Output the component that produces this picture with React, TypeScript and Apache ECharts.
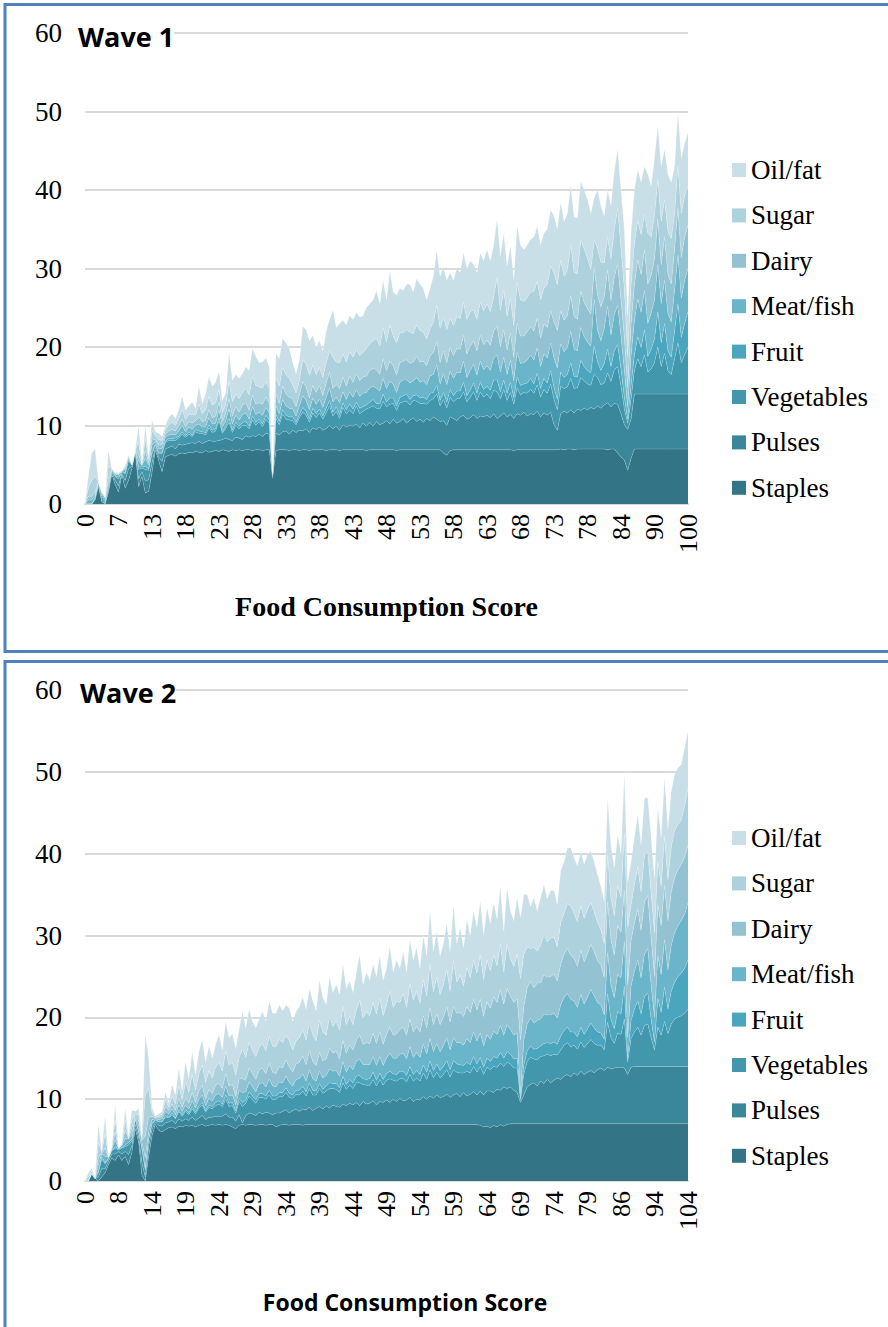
import React, { useEffect, useRef } from "react";
import * as echarts from "echarts";

const seriesNames = ["Staples", "Pulses", "Vegetables", "Fruit", "Meat/fish", "Dairy", "Sugar", "Oil/fat"];
const legendOrder = ["Oil/fat", "Sugar", "Dairy", "Meat/fish", "Fruit", "Vegetables", "Pulses", "Staples"];
const seriesColors = ["#337587", "#3A879B", "#4397AC", "#4AA6BE", "#6AB5C9", "#93C3D3", "#AED2DD", "#C9DFE7"];

// Wave 1: Food Consumption Score categories
const cats1 = [
  0, 0.5, 1, 1.5, 2, 3, 3.5, 4, 5, 6,
  7, 7.5, 8, 8.5, 9, 10, 10.5, 11, 11.5, 12,
  13, 13.5, 14, 14.5, 15, 15.5, 16, 16.5, 17, 17.5,
  18, 18.5, 19, 19.5, 20, 20.5, 21, 21.5, 22, 22.5,
  23, 23.5, 24, 24.5, 25, 25.5, 26, 26.5, 27, 27.5,
  28, 28.5, 29, 29.5, 30, 30.5, 31, 31.5, 32, 32.5,
  33, 33.5, 34, 34.5, 35, 35.5, 36, 36.5, 37, 37.5,
  38, 38.5, 39, 39.5, 40, 40.5, 41, 41.5, 42, 42.5,
  43, 43.5, 44, 44.5, 45, 45.5, 46, 46.5, 47, 47.5,
  48, 48.5, 49, 49.5, 50, 50.5, 51, 51.5, 52, 52.5,
  53, 53.5, 54, 54.5, 55, 55.5, 56, 56.5, 57, 57.5,
  58, 58.5, 59, 59.5, 60, 60.5, 61, 61.5, 62, 62.5,
  63, 63.5, 64, 64.5, 65, 65.5, 66, 66.5, 67, 67.5,
  68, 68.5, 69, 69.5, 70, 70.5, 71, 71.5, 72, 72.5,
  73, 73.5, 74, 74.5, 75, 75.5, 76, 76.5, 77, 77.5,
  78, 78.5, 79, 79.5, 80, 81, 81.5, 82, 83, 83.5,
  84, 84.5, 85, 86, 86.5, 87, 88, 88.5, 89, 89.5,
  90, 91, 92, 93, 94, 95, 96, 97, 98, 99,
  100,
];

const staples1 = [
  0, 0, 0, 0.5, 2.2, 0.3, 0, 1.5, 3.8, 2.5,
  1.5, 3.7, 2, 3, 4.5, 6.6, 2.2, 3.5, 1.4, 1.6,
  4, 6.9, 5.5, 4.1, 6, 6.2, 6.3, 6.1, 6.4, 6.5,
  6.4, 6.6, 6.5, 6.7, 6.6, 6.5, 6.8, 6.6, 6.7, 6.8,
  6.7, 6.9, 6.8, 6.7, 6.9, 6.8, 6.9, 6.8, 6.9, 6.9,
  6.8, 6.9, 6.9, 6.8, 6.9, 6.9, 3.3, 6.8, 6.9, 6.9,
  6.9, 6.8, 6.9, 6.9, 6.8, 6.9, 6.9, 6.8, 6.9, 6.9,
  6.9, 6.9, 6.8, 6.9, 6.9, 6.9, 6.8, 6.9, 6.9, 6.9,
  6.9, 6.9, 6.9, 6.9, 6.8, 6.9, 6.9, 6.9, 6.9, 6.9,
  6.9, 6.9, 6.9, 6.8, 6.9, 6.9, 6.9, 6.9, 6.9, 6.9,
  6.9, 6.9, 6.9, 6.9, 6.9, 6.9, 6.9, 6.5, 6.2, 6.8,
  6.9, 6.9, 6.9, 6.9, 6.9, 6.9, 6.9, 6.9, 6.9, 6.9,
  6.9, 6.9, 6.9, 6.9, 6.9, 6.9, 6.9, 6.9, 6.8, 6.9,
  6.9, 6.9, 6.9, 6.9, 6.9, 6.9, 6.9, 6.9, 6.9, 6.9,
  6.9, 6.9, 7, 6.9, 7, 7, 6.9, 7, 7, 7,
  7, 7, 7, 7, 7, 7, 6.9, 7, 7, 6.5,
  6, 5.6, 4.3, 5.8, 7, 7, 7, 7, 7, 7,
  7, 7, 7, 7, 7, 7, 7, 7, 7, 7,
  7,
];
const pulses1 = [
  0, 0, 0, 0, 0.3, 0.2, 0, 0.3, 0.3, 0.5,
  0.8, 0.2, 1, 1.5, 0.3, 0.1, 1, 0.6, 1.5, 1.5,
  1.2, 0.3, 0.5, 1.3, 1, 1, 1.1, 0.9, 1.2, 1.0,
  1.2, 1.1, 1.3, 1.0, 1.4, 1.2, 1.1, 1.5, 1.3, 1.2,
  1.4, 1.3, 1.6, 1.5, 1.2, 1.7, 1.5, 1.4, 1.8, 1.6,
  1.9, 1.7, 2.0, 1.8, 2.1, 2.0, 0.3, 2.2, 1.9, 2.3,
  2.4, 2.1, 2.5, 2.2, 2.6, 2.4, 2.7, 2.3, 2.8, 2.6,
  2.9, 2.5, 2.8, 3.1, 2.7, 3.0, 2.6, 3.2, 2.9, 3.1,
  3.0, 3.3, 2.8, 3.4, 3.1, 3.5, 3.0, 3.6, 3.2, 3.4,
  3.7, 3.3, 3.9, 3.5, 3.6, 4.0, 3.4, 3.8, 4.1, 3.6,
  3.9, 3.5, 4.0, 3.7, 4.2, 3.9, 3.6, 4.1, 3.8, 4.3,
  4.0, 3.7, 4.2, 4.4, 3.9, 4.1, 4.5, 4.0, 4.3, 4.2,
  4.4, 4.1, 4.6, 4.0, 4.3, 4.7, 4.2, 4.5, 4.1, 4.6,
  4.4, 4.8, 4.3, 4.6, 4.5, 4.9, 4.2, 4.7, 4.4, 4.8,
  3.2, 2.5, 4.5, 4.9, 4.6, 5.0, 4.7, 5.1, 4.9, 5.2,
  5.0, 5.3, 5.1, 5.5, 5.2, 5.6, 6.0, 5.4, 5.8, 6.2,
  5.5, 4.5, 5.2, 5.0, 7, 7, 7, 7, 7, 7,
  7, 7, 7, 7, 7, 7, 7, 7, 7, 7,
  7,
];
const veg1 = [
  0, 0, 0, 0.3, 0.3, 0.5, 0.2, 0.5, 0.2, 0.5,
  0.9, 0.2, 0.8, 1, 0.2, 0.1, 1.2, 0.5, 1.5, 1.2,
  1.2, 0.3, 0.4, 1, 0.8, 0.9, 0.7, 1.1, 0.8, 1.4,
  0.9, 1.2, 0.8, 1.5, 1.0, 1.3, 0.9, 1.6, 1.1, 1.3,
  2.5, 0.8, 1.2, 2.2, 1.0, 1.5, 1.2, 1.8, 1.3, 1.1,
  2.0, 1.4, 1.6, 1.2, 1.8, 1.4, 0.1, 1.9, 1.3, 2.2,
  1.5, 1.8, 1.2, 1.0, 1.6, 2.4, 1.7, 1.3, 1.9, 1.5,
  1.8, 1.4, 2.0, 2.5, 1.6, 1.9, 1.5, 2.2, 1.7, 2.0,
  1.6, 2.3, 1.8, 1.5, 2.2, 1.9, 2.6, 1.7, 2.0, 2.8,
  1.8, 2.5, 2.0, 1.6, 2.4, 2.1, 2.8, 1.9, 2.2, 2.6,
  2.0, 2.4, 1.8, 2.6, 2.3, 3.2, 2.0, 2.7, 2.2, 2.5,
  2.1, 2.8, 2.4, 3.0, 2.2, 2.6, 2.9, 2.3, 3.1, 2.5,
  2.7, 2.4, 3.0, 3.4, 2.2, 3.0, 2.1, 2.8, 1.8, 3.3,
  2.6, 2.5, 2.9, 3.1, 2.7, 3.4, 2.5, 3.0, 2.8, 3.6,
  3.2, 2.6, 3.5, 2.9, 3.3, 4.0, 3.1, 2.7, 4.2, 3.5,
  3.3, 2.8, 4.5, 3.6, 3.0, 2.8, 3.8, 3.2, 4.3, 4.8,
  3.5, 2.0, 0.8, 2.5, 3.0, 4.5, 3.5, 5.0, 2.8, 3.2,
  4.0, 6.0, 3.5, 5.2, 3.0, 2.5, 4.5, 6.5, 4.0, 5.0,
  6.0,
];
const fruit1 = [
  0, 0, 0, 0, 0, 0.2, 0.3, 0, 0, 0.1,
  0.2, 0, 0.2, 0.2, 0, 0, 0.3, 0.1, 0.4, 0.2,
  0.3, 0.1, 0.2, 0.2, 0.2, 0.2, 0.2, 0.3, 0.2, 0.3,
  0.2, 0.3, 0.2, 0.3, 0.3, 0.2, 0.3, 0.4, 0.3, 0.3,
  0.4, 0.2, 0.3, 0.5, 0.3, 0.4, 0.3, 0.4, 0.5, 0.3,
  0.5, 0.4, 0.3, 0.4, 0.5, 0.4, 0.1, 0.5, 0.4, 0.6,
  0.5, 0.4, 0.5, 0.3, 0.4, 0.6, 0.5, 0.4, 0.6, 0.5,
  0.5, 0.4, 0.6, 0.7, 0.5, 0.6, 0.5, 0.6, 0.5, 0.7,
  0.6, 0.5, 0.7, 0.6, 0.5, 0.7, 0.8, 0.6, 0.7, 0.9,
  0.6, 0.8, 0.7, 0.6, 0.7, 0.8, 0.9, 0.7, 0.6, 0.8,
  0.7, 0.8, 0.6, 0.9, 0.8, 1.1, 0.7, 0.9, 0.8, 1.0,
  0.8, 1.0, 0.9, 1.2, 0.8, 0.9, 1.1, 0.9, 1.2, 1.0,
  1.0, 1.1, 1.3, 1.5, 0.9, 1.2, 0.9, 1.3, 0.8, 1.4,
  1.2, 1.1, 1.3, 1.4, 1.2, 1.5, 1.1, 1.4, 1.3, 1.7,
  1.5, 1.3, 1.8, 1.4, 1.6, 2.0, 1.5, 1.4, 2.2, 1.8,
  1.7, 1.6, 3.5, 2.0, 1.8, 2.5, 3.0, 1.9, 2.4, 2.8,
  2.2, 1.5, 0.5, 1.8, 2.0, 2.8, 2.4, 3.2, 2.0, 2.5,
  3.0, 4.5, 3.0, 3.8, 2.5, 2.2, 3.5, 5.0, 3.2, 4.0,
  4.5,
];
const meat1 = [
  0, 0.5, 0.5, 0.3, 0, 0.3, 0.3, 0.5, 0.2, 0.2,
  0.3, 0.1, 0.4, 0.3, 0, 0, 0.8, 0.2, 1, 0.5,
  0.8, 0.3, 0.4, 0.5, 0.5, 0.5, 0.6, 0.4, 0.7, 0.8,
  0.5, 0.6, 0.7, 0.5, 0.9, 0.6, 0.7, 0.9, 0.8, 0.7,
  1.0, 0.6, 0.7, 1.2, 0.8, 0.9, 0.8, 1.0, 1.1, 0.9,
  1.2, 1.0, 0.9, 1.1, 1.0, 0.9, 0.1, 1.1, 1.0, 1.3,
  1.2, 1.1, 1.0, 0.8, 1.1, 1.5, 1.4, 1.2, 1.3, 1.2,
  1.3, 1.1, 1.4, 1.6, 1.3, 1.2, 1.5, 1.4, 1.3, 1.6,
  1.5, 1.6, 1.5, 1.7, 1.6, 1.8, 1.7, 1.9, 1.6, 2.0,
  1.7, 2.1, 1.8, 1.7, 1.9, 2.0, 1.8, 2.1, 1.9, 2.2,
  2.0, 2.1, 1.9, 2.2, 2.3, 2.6, 2.1, 2.4, 2.2, 2.3,
  2.2, 2.4, 2.3, 2.7, 2.3, 2.5, 2.4, 2.3, 2.7, 2.5,
  2.6, 2.5, 2.8, 3.2, 2.5, 2.9, 2.4, 2.8, 2.2, 3.1,
  2.8, 2.7, 2.9, 3.0, 3.0, 3.2, 2.8, 3.1, 3.2, 3.5,
  3.8, 4.0, 3.6, 3.3, 3.4, 4.0, 3.5, 3.3, 4.2, 3.8,
  3.6, 3.4, 6.0, 4.0, 3.8, 4.5, 5.5, 4.0, 4.6, 5.0,
  4.2, 3.5, 1.5, 3.8, 4.3, 4.8, 4.5, 5.0, 4.2, 4.6,
  5.0, 6.0, 5.0, 5.5, 4.8, 4.5, 5.2, 6.2, 5.0, 5.5,
  5.5,
];
const dairy1 = [
  0, 0.5, 0.5, 0.4, 0, 0, 0, 0.5, 0, 0.1,
  0.1, 0, 0.2, 0.1, 0, 0, 0.8, 0.1, 1, 0.3,
  0.8, 0.3, 0.5, 0.5, 0.4, 0.5, 0.6, 0.5, 0.7, 0.8,
  0.6, 0.7, 0.8, 0.6, 0.9, 0.7, 0.8, 1.0, 0.8, 0.9,
  1.0, 0.7, 0.9, 1.3, 1.0, 1.1, 1.0, 1.2, 1.3, 1.1,
  1.5, 1.3, 1.2, 1.4, 1.3, 1.2, 0.1, 1.5, 1.3, 1.7,
  1.5, 1.4, 1.3, 1.2, 1.4, 1.8, 1.7, 1.5, 1.6, 1.5,
  1.7, 1.5, 1.8, 2.0, 1.7, 1.6, 1.8, 1.9, 1.7, 2.0,
  1.9, 2.0, 2.0, 2.1, 2.1, 2.2, 2.3, 2.4, 2.1, 2.5,
  2.3, 2.6, 2.3, 2.2, 2.5, 2.4, 2.6, 2.5, 2.4, 2.7,
  2.6, 2.5, 2.4, 2.6, 2.8, 3.0, 2.7, 2.9, 2.8, 3.0,
  2.9, 3.0, 3.0, 3.3, 3.0, 3.1, 3.0, 3.1, 3.3, 3.2,
  3.3, 3.2, 3.4, 3.7, 3.2, 3.5, 3.1, 3.5, 3.0, 3.7,
  3.5, 3.4, 3.6, 3.6, 3.7, 3.8, 3.6, 3.8, 3.9, 4.1,
  4.6, 4.8, 4.2, 4.0, 4.1, 4.5, 4.2, 4.0, 4.6, 4.4,
  4.3, 4.1, 4.0, 4.5, 4.3, 4.0, 4.6, 4.4, 4.8, 5.2,
  4.6, 4.2, 2.5, 4.0, 4.6, 5.0, 4.8, 5.2, 5.0, 4.8,
  5.2, 5.8, 5.0, 5.5, 5.0, 4.8, 5.3, 6.0, 5.2, 5.5,
  5.5,
];
const sugar1 = [
  0, 1, 2, 2, 0.1, 0, 0, 1.5, 0, 0.1,
  0.1, 0, 0.2, 0.1, 0, 0, 1.6, 0.1, 1.5, 0.4,
  1.1, 0.5, 0.7, 0.5, 0.5, 0.8, 0.9, 0.7, 0.9, 1.2,
  1.0, 0.9, 1.1, 0.7, 1.6, 1.0, 1.4, 1.7, 1.6, 1.7,
  1.6, 1.1, 1.1, 2.3, 1.8, 1.6, 1.7, 1.6, 1.8, 2.0,
  2.3, 2.4, 2.0, 2.1, 2.0, 1.9, 0.1, 2.1, 2.2, 2.4,
  2.5, 2.4, 1.8, 1.7, 1.8, 2.8, 2.9, 2.9, 2.6, 2.3,
  2.3, 2.3, 2.6, 2.7, 4.0, 2.9, 3.3, 2.9, 3.1, 3.1,
  3.2, 3.1, 3.2, 3.1, 3.5, 3.4, 3.5, 4.0, 3.6, 4.0,
  3.6, 4.6, 3.8, 4.1, 3.8, 3.6, 3.8, 4.0, 3.6, 4.0,
  4.0, 3.7, 3.4, 3.4, 3.9, 4.6, 4.4, 4.3, 4.2, 3.8,
  3.8, 4.1, 3.9, 4.2, 4.4, 4.4, 3.9, 4.0, 4.2, 4.3,
  4.6, 4.3, 4.4, 6.1, 4.6, 5.1, 4.3, 4.4, 4.0, 5.2,
  4.6, 4.4, 4.4, 4.4, 5.0, 4.7, 4.9, 4.6, 5.5, 5.7,
  6.2, 5.8, 6.5, 5.6, 5.8, 6.5, 5.6, 5.8, 6.5, 6.8,
  6.4, 5.6, 3.5, 6.0, 5.7, 4.3, 4.2, 5.3, 6.0, 7.2,
  6.5, 6.2, 4.0, 5.0, 5.3, 5.0, 5.1, 4.5, 6.5, 4.9,
  5.6, 5.1, 5.5, 4.8, 5.5, 5.8, 4.5, 5.4, 5.6, 5.2,
  5.0,
];
const oil1 = [
  0, 1.5, 3.5, 3.5, 0.1, 0, 0, 2, 0, 0,
  0.1, 0, 0.2, 0, 0, 0, 2, 0.1, 1.6, 0.3,
  1.3, 0.5, 0.8, 0.5, 0.6, 0.9, 1.1, 0.9, 1.1, 1.7,
  1.2, 1.1, 1.6, 0.9, 2.3, 1.3, 2.0, 2.5, 2.4, 2.6,
  2.3, 1.6, 1.5, 3.5, 2.8, 2.5, 2.6, 2.4, 2.8, 3.1,
  3.6, 3.7, 3.1, 3.3, 3.0, 2.8, 0.1, 3.1, 3.5, 3.7,
  4.0, 3.8, 2.8, 2.5, 2.6, 4.2, 4.4, 4.4, 3.8, 3.5,
  3.4, 3.4, 4.0, 4.0, 6.0, 4.4, 5.0, 4.3, 4.7, 4.6,
  4.8, 4.7, 4.9, 4.7, 5.2, 5.1, 5.2, 6.1, 5.4, 6.0,
  5.4, 6.9, 5.6, 6.1, 5.7, 5.4, 5.8, 6.1, 5.3, 5.9,
  5.9, 5.6, 5.0, 5.2, 5.8, 7.0, 6.6, 6.4, 6.3, 5.8,
  5.8, 6.1, 5.9, 6.3, 6.5, 6.5, 5.8, 6.0, 6.3, 6.4,
  6.9, 6.5, 6.6, 7.5, 7.0, 7.2, 6.4, 6.7, 5.9, 7.2,
  7.0, 6.6, 6.7, 6.7, 7.0, 7.0, 7.0, 7.0, 7.0, 7.2,
  7.3, 7.1, 7.3, 7.0, 7.2, 7.5, 7.0, 7.2, 7.5, 7.5,
  7.5, 7.2, 5.4, 7.4, 7.2, 6.0, 6.0, 6.8, 7.5, 7.5,
  7.5, 7.5, 5.1, 6.6, 6.8, 6.5, 6.7, 6.1, 7.5, 6.5,
  7.2, 6.8, 7.0, 6.4, 7.2, 7.2, 6.0, 6.8, 7.0, 6.8,
  6.8,
];

// Wave 2
const cats2 = [
  0, 0.5, 1, 2, 3, 3.5, 4, 5, 6, 7,
  8, 8.5, 9, 9.5, 10, 11, 11.5, 12, 12.5, 13,
  14, 14.5, 15, 15.5, 16, 16.5, 17, 17.5, 18, 18.5,
  19, 19.5, 20, 20.5, 21, 21.5, 22, 22.5, 23, 23.5,
  24, 24.5, 25, 25.5, 26, 26.5, 27, 27.5, 28, 28.5,
  29, 29.5, 30, 30.5, 31, 31.5, 32, 32.5, 33, 33.5,
  34, 34.5, 35, 35.5, 36, 36.5, 37, 37.5, 38, 38.5,
  39, 39.5, 40, 40.5, 41, 41.5, 42, 42.5, 43, 43.5,
  44, 44.5, 45, 45.5, 46, 46.5, 47, 47.5, 48, 48.5,
  49, 49.5, 50, 50.5, 51, 51.5, 52, 52.5, 53, 53.5,
  54, 54.5, 55, 55.5, 56, 56.5, 57, 57.5, 58, 58.5,
  59, 59.5, 60, 60.5, 61, 61.5, 62, 62.5, 63, 63.5,
  64, 64.5, 65, 65.5, 66, 66.5, 67, 67.5, 68, 68.5,
  69, 69.5, 70, 70.5, 71, 71.5, 72, 72.5, 73, 73.5,
  74, 74.5, 75, 75.5, 76, 76.5, 77, 77.5, 78, 78.5,
  79, 79.5, 80, 81, 81.5, 82, 83, 84, 84.5, 85,
  86, 87, 87.5, 88, 89, 90, 91, 91.5, 92, 93,
  94, 95, 96, 97, 98, 99, 100, 101, 102, 103,
  104,
];

const staples2 = [
  0, 0, 0.9, 0.3, 0, 0.5, 1, 2, 2.8, 2.5,
  3.2, 2.5, 3.0, 2, 3.5, 6.4, 4.8, 0.7, 0, 3,
  5.5, 6.9, 6.2, 6.0, 6.3, 6.5, 6.6, 6.4, 6.7, 6.6,
  6.8, 6.7, 6.8, 6.6, 6.8, 6.9, 6.7, 6.8, 6.9, 6.8,
  6.9, 6.8, 6.9, 6.8, 6.6, 6.4, 6.8, 6.9, 6.8, 6.9,
  6.9, 6.8, 6.9, 6.9, 6.8, 6.9, 6.9, 6.6, 6.8, 6.9,
  6.9, 6.8, 6.9, 6.9, 6.9, 6.8, 6.9, 6.9, 6.9, 6.9,
  6.9, 6.9, 6.9, 6.9, 6.9, 6.9, 6.9, 6.9, 6.9, 6.9,
  6.9, 6.9, 6.9, 6.9, 6.9, 6.9, 6.9, 6.9, 6.9, 6.9,
  6.9, 6.9, 6.9, 6.9, 6.9, 6.9, 6.9, 6.9, 6.9, 6.9,
  6.9, 6.9, 6.9, 6.9, 6.9, 6.9, 6.9, 6.9, 6.9, 6.9,
  6.9, 6.9, 6.9, 6.9, 6.9, 6.9, 6.9, 6.9, 6.8, 6.6,
  6.7, 6.5, 6.8, 6.6, 6.9, 6.7, 6.9, 7, 7, 7,
  7, 7, 7, 7, 7, 7, 7, 7, 7, 7,
  7, 7, 7, 7, 7, 7, 7, 7, 7, 7,
  7, 7, 7, 7, 7, 7, 7, 7, 7, 7,
  7, 7, 7, 7, 7, 7, 7, 7, 7, 7,
  7, 7, 7, 7, 7, 7, 7, 7, 7, 7,
  7,
];
const pulses2 = [
  0, 0, 0, 0, 0.5, 1.0, 0.5, 0.4, 0.5, 0.8,
  0.4, 0.8, 0.6, 1.2, 0.8, 0.5, 0.6, 1.5, 0.5, 1.2,
  0.8, 0.3, 0.6, 0.7, 0.8, 0.7, 0.8, 0.6, 0.9, 0.7,
  0.8, 0.7, 1.0, 0.8, 0.9, 1.1, 0.8, 1.0, 0.9, 1.1,
  1.0, 1.1, 1.3, 1.0, 1.2, 0.9, 1.3, 0.2, 1.2, 1.4,
  1.3, 1.2, 1.5, 1.3, 1.6, 1.4, 1.2, 1.7, 1.5, 1.6,
  1.8, 1.5, 1.7, 1.9, 1.6, 2.0, 1.8, 2.1, 1.7, 2.0,
  2.2, 1.9, 2.3, 2.0, 2.4, 2.2, 2.1, 2.5, 2.3, 2.6,
  2.4, 2.7, 2.3, 2.8, 2.5, 2.6, 2.9, 2.4, 2.8, 2.7,
  3.0, 2.7, 3.1, 2.8, 3.2, 2.9, 3.0, 3.3, 2.8, 3.1,
  3.0, 3.4, 3.1, 3.5, 3.2, 3.6, 3.3, 3.4, 3.7, 3.3,
  3.6, 3.8, 3.4, 3.9, 3.5, 3.7, 4.0, 3.6, 4.2, 3.9,
  4.3, 4.5, 4.0, 4.6, 4.2, 4.8, 4.4, 4.5, 4.1, 3.8,
  2.6, 3.5, 4.5, 4.8, 5.0, 4.6, 5.2, 4.9, 5.4, 5.0,
  5.3, 5.6, 5.4, 5.8, 6.0, 5.7, 6.2, 5.9, 6.4, 6.0,
  6.3, 6.5, 6.2, 6.6, 6.8, 6.5, 6.9, 6.7, 6.8, 6.9,
  6.9, 6.8, 6.0, 6.9, 7, 7, 7, 7, 7, 7,
  7, 7, 7, 7, 7, 7, 7, 7, 7, 7,
  7,
];
const veg2 = [
  0, 0, 0, 0, 0.5, 1.2, 0.6, 0.3, 0.4, 0.7,
  0.2, 0.7, 0.6, 1.2, 0.6, 0.6, 0.6, 1.6, 0.8, 0.8,
  0.6, 0.2, 0.4, 0.5, 0.7, 0.5, 0.7, 0.6, 0.9, 0.6,
  0.9, 0.7, 1.0, 0.8, 1.2, 1.3, 0.9, 1.2, 1.0, 1.3,
  1.5, 1.2, 1.8, 1.3, 1.4, 1.0, 1.6, 2.0, 1.5, 2.1,
  1.7, 1.5, 1.8, 2.0, 1.6, 2.2, 1.8, 1.7, 2.0, 1.8,
  2.1, 1.9, 1.5, 1.8, 2.0, 2.2, 1.7, 2.3, 1.9, 1.6,
  2.2, 1.9, 1.8, 2.4, 2.0, 2.1, 1.8, 2.6, 2.0, 2.2,
  2.0, 2.4, 2.8, 2.1, 2.3, 2.2, 2.6, 2.3, 2.7, 2.1,
  2.4, 2.9, 2.3, 2.5, 2.4, 2.7, 2.2, 2.8, 2.5, 2.6,
  2.3, 2.9, 2.4, 3.2, 2.5, 2.8, 2.4, 2.7, 3.0, 2.5,
  3.1, 2.6, 2.9, 2.4, 3.0, 2.6, 3.1, 2.8, 3.0, 2.5,
  2.9, 2.6, 3.2, 2.7, 3.3, 2.5, 3.2, 2.8, 2.7, 3.0,
  0.3, 2.6, 3.1, 3.3, 2.9, 3.2, 3.0, 3.4, 3.1, 3.3,
  3.2, 2.8, 3.6, 3.8, 3.9, 3.7, 3.4, 3.2, 3.6, 3.3,
  3.5, 3.8, 3.6, 3.0, 2.8, 2.5, 5.5, 3.8, 3.0, 4.2,
  4.0, 6.0, 1.5, 3.5, 4.2, 4.8, 3.8, 5.0, 5.2, 3.5,
  2.0, 4.8, 3.8, 5.5, 4.0, 5.2, 5.8, 6.0, 6.2, 6.5,
  7,
];
const fruit2 = [
  0, 0, 0, 0, 0.2, 0.3, 0.1, 0.1, 0.1, 0.2,
  0.1, 0.1, 0.2, 0.3, 0.2, 0.1, 0.2, 0.3, 0.3, 0.2,
  0.2, 0.1, 0.1, 0.1, 0.2, 0.1, 0.2, 0.1, 0.2, 0.2,
  0.2, 0.2, 0.3, 0.2, 0.3, 0.3, 0.2, 0.3, 0.3, 0.4,
  0.4, 0.3, 0.5, 0.4, 0.4, 0.3, 0.4, 0.5, 0.4, 0.5,
  0.5, 0.4, 0.5, 0.5, 0.4, 0.6, 0.5, 0.4, 0.5, 0.5,
  0.6, 0.5, 0.4, 0.5, 0.6, 0.6, 0.5, 0.7, 0.6, 0.5,
  0.6, 0.5, 0.6, 0.7, 0.6, 0.7, 0.6, 0.8, 0.6, 0.7,
  0.7, 0.8, 0.9, 0.7, 0.7, 0.8, 0.9, 0.7, 0.8, 0.7,
  0.8, 0.9, 0.8, 0.8, 0.9, 0.9, 0.8, 1.0, 0.8, 0.9,
  0.8, 1.0, 0.9, 1.1, 0.9, 1.0, 0.9, 1.0, 1.1, 0.9,
  1.1, 1.0, 1.0, 0.9, 1.1, 1.0, 1.2, 1.0, 1.1, 0.9,
  1.1, 1.0, 1.2, 1.1, 1.3, 1.0, 1.3, 1.2, 1.1, 1.2,
  0.2, 1.1, 1.3, 1.4, 1.2, 1.4, 1.3, 1.5, 1.4, 1.5,
  1.5, 1.3, 1.7, 1.8, 1.9, 1.8, 1.6, 1.5, 1.8, 1.6,
  1.8, 2.0, 1.9, 1.6, 1.5, 1.3, 3.5, 2.2, 1.8, 2.6,
  2.5, 4.0, 0.5, 2.2, 2.8, 3.2, 2.6, 3.5, 3.8, 2.2,
  1.0, 3.5, 2.8, 4.2, 3.0, 4.0, 4.5, 5.0, 5.2, 5.5,
  6,
];
const meat2 = [
  0, 0, 0, 0, 0.8, 0.3, 0.8, 0.1, 0.1, 0.8,
  0.1, 0.2, 0.8, 0.4, 0.6, 0.2, 0.6, 0.6, 1.2, 0.8,
  0.4, 0.1, 0.2, 0.3, 0.5, 0.4, 0.5, 0.4, 0.6, 0.4,
  0.6, 0.5, 0.7, 0.5, 0.8, 0.9, 0.6, 0.8, 0.7, 0.9,
  0.9, 0.8, 1.1, 0.9, 0.9, 0.7, 1.0, 1.2, 1.0, 1.2,
  1.1, 1.0, 1.2, 1.3, 1.1, 1.4, 1.2, 1.1, 1.3, 1.2,
  1.4, 1.3, 1.1, 1.3, 1.4, 1.5, 1.3, 1.6, 1.4, 1.2,
  1.5, 1.4, 1.3, 1.7, 1.5, 1.6, 1.4, 1.8, 1.5, 1.7,
  1.6, 1.8, 2.0, 1.7, 1.8, 1.7, 1.9, 1.8, 2.0, 1.7,
  1.9, 2.2, 1.9, 2.0, 2.1, 2.2, 2.0, 2.4, 2.1, 2.2,
  2.1, 2.5, 2.2, 2.7, 2.3, 2.5, 2.3, 2.5, 2.8, 2.4,
  2.8, 2.6, 2.7, 2.5, 2.9, 2.7, 3.0, 2.8, 3.0, 2.6,
  2.9, 2.7, 3.1, 2.9, 3.3, 2.8, 3.3, 3.0, 2.9, 3.1,
  0.6, 3.0, 3.3, 3.4, 3.2, 3.4, 3.3, 3.6, 3.4, 3.5,
  3.5, 3.2, 3.8, 4.0, 4.1, 4.0, 3.8, 3.6, 4.0, 3.7,
  3.9, 4.1, 3.9, 3.6, 3.4, 3.0, 5.0, 4.2, 3.8, 4.6,
  4.4, 5.5, 2.5, 4.2, 4.6, 5.0, 4.4, 5.2, 5.4, 4.2,
  3.0, 5.2, 4.6, 5.8, 4.8, 5.6, 6.0, 6.2, 6.4, 6.6,
  7,
];
const dairy2 = [
  0, 0, 0.1, 0, 0.9, 0.1, 1.0, 0, 0.1, 1.0,
  0, 0.1, 1.0, 0.1, 0.8, 0.2, 0.6, 0.3, 2.7, 1.8,
  0.4, 0.1, 0.2, 0.3, 0.6, 0.4, 0.6, 0.5, 0.8, 0.5,
  0.8, 0.7, 1.0, 0.7, 1.0, 1.2, 0.8, 1.1, 0.9, 1.2,
  1.2, 1.1, 1.5, 1.2, 1.3, 1.0, 1.4, 1.7, 1.4, 1.7,
  1.6, 1.5, 1.7, 1.8, 1.6, 1.9, 1.7, 1.6, 1.9, 1.8,
  2.0, 1.9, 1.7, 1.9, 2.0, 2.2, 2.0, 2.3, 2.1, 1.9,
  2.3, 2.1, 2.0, 2.5, 2.2, 2.4, 2.1, 2.6, 2.3, 2.5,
  2.4, 2.6, 2.9, 2.5, 2.7, 2.6, 2.9, 2.7, 3.0, 2.6,
  2.9, 3.2, 2.8, 3.0, 3.0, 3.2, 2.9, 3.4, 3.1, 3.2,
  3.1, 3.5, 3.2, 3.8, 3.3, 3.6, 3.3, 3.5, 3.8, 3.4,
  3.8, 3.6, 3.7, 3.5, 3.9, 3.7, 4.0, 3.8, 4.1, 3.6,
  4.0, 3.8, 4.2, 3.9, 4.4, 3.8, 4.4, 4.1, 4.0, 4.2,
  6.5, 4.1, 4.4, 4.5, 4.3, 4.6, 4.4, 4.8, 4.6, 4.7,
  4.8, 4.5, 5.0, 5.3, 5.5, 5.4, 5.2, 5.0, 5.4, 5.2,
  5.3, 5.5, 5.4, 5.1, 4.9, 4.6, 6.2, 5.6, 5.2, 5.9,
  5.6, 6.2, 6.5, 5.6, 5.9, 6.2, 5.8, 6.4, 6.5, 5.8,
  5.0, 6.3, 6.0, 6.6, 6.0, 6.5, 6.8, 6.8, 6.9, 7.0,
  7,
];
const sugar2 = [
  0, 0.5, 0.2, 0.1, 1.8, 0.1, 1.8, 0.1, 0, 1.5,
  0, 0.1, 1.2, 0.1, 1.0, 0.2, 0.7, 0.3, 5, 3.5,
  0.5, 0.1, 0.2, 0.3, 0.8, 0.4, 1.0, 0.8, 1.6, 0.9,
  2.0, 1.3, 2.2, 1.5, 2.1, 2.5, 2.0, 2.3, 1.9, 2.2,
  2.6, 2.1, 2.8, 2.6, 2.7, 2.6, 2.6, 3.6, 2.8, 3.2,
  2.8, 2.8, 2.7, 3.0, 2.8, 3.3, 3.2, 3.3, 3.3, 3.1,
  3.0, 3.2, 2.7, 2.8, 3.0, 3.2, 3.0, 3.4, 3.3, 3.0,
  3.9, 3.5, 2.9, 3.9, 3.3, 3.6, 3.5, 4.1, 3.5, 3.5,
  3.1, 3.7, 4.3, 3.2, 3.8, 3.4, 3.7, 3.6, 4.1, 3.5,
  3.6, 4.4, 3.4, 4.0, 3.3, 4.1, 3.4, 4.3, 3.9, 4.3,
  3.5, 4.4, 3.9, 5.3, 4.0, 4.5, 3.7, 4.0, 4.5, 3.8,
  5.6, 3.8, 4.6, 3.7, 4.8, 4.2, 4.8, 4.5, 5.4, 4.5,
  5.1, 4.6, 5.1, 4.5, 5.6, 3.9, 5.4, 4.6, 4.4, 5.4,
  7.5, 6.4, 5.0, 4.0, 4.9, 3.9, 4.6, 4.9, 4.3, 4.7,
  4.5, 4.2, 5.1, 5.0, 5.5, 6.0, 5.5, 5.5, 5.4, 5.3,
  5.4, 5.1, 4.9, 4.7, 4.3, 4.1, 5.7, 5.1, 4.8, 4.9,
  4.3, 7.0, 7.0, 4.3, 4.7, 5.2, 4.7, 5.7, 5.3, 5.5,
  5.3, 5.2, 4.8, 6.0, 5.0, 5.5, 5.7, 5.6, 5.4, 6.3,
  7,
];
const oil2 = [
  0, 0.5, 0.3, 0.1, 2.2, 0.1, 2.1, 0, 0, 1.8,
  0, 0.1, 1.5, 0.1, 1.2, 0.3, 0.8, 0.2, 7.4, 3.7,
  0.6, 0.1, 0.3, 0.3, 1.0, 0.5, 1.4, 1.1, 2.1, 1.1,
  2.5, 1.7, 2.8, 1.9, 2.7, 3.1, 2.5, 3.0, 2.4, 2.8,
  3.4, 2.6, 3.6, 3.3, 3.5, 3.3, 3.4, 4.6, 3.6, 4.0,
  3.6, 3.5, 3.5, 3.9, 3.6, 4.3, 4.0, 4.1, 4.2, 3.9,
  3.7, 4.0, 3.5, 3.6, 3.8, 4.0, 3.8, 4.2, 4.1, 3.7,
  4.9, 4.3, 3.7, 4.9, 4.1, 4.5, 4.4, 5.2, 4.4, 4.4,
  3.9, 4.6, 5.5, 4.1, 4.8, 4.3, 4.7, 4.6, 5.2, 4.3,
  4.5, 5.5, 4.3, 5.0, 4.2, 5.1, 4.3, 5.4, 4.9, 5.3,
  4.3, 5.4, 4.9, 6.5, 4.9, 5.6, 4.7, 5.0, 5.7, 4.8,
  6.8, 4.7, 5.8, 4.7, 5.9, 5.2, 6.0, 5.6, 6.6, 5.5,
  6.4, 5.8, 6.4, 5.7, 7.0, 5.0, 6.9, 5.8, 5.6, 6.9,
  7.5, 7.3, 6.4, 5.1, 6.1, 4.9, 5.8, 6.1, 5.3, 5.8,
  5.7, 5.2, 6.3, 6.3, 6.8, 7.1, 6.8, 6.8, 6.7, 6.6,
  6.7, 6.3, 6.1, 5.9, 5.3, 5.2, 7.0, 6.4, 5.9, 6.2,
  5.3, 7.2, 5.5, 5.3, 5.8, 6.4, 5.8, 7.0, 6.6, 6.8,
  6.7, 6.6, 6.0, 7.2, 6.2, 6.8, 6.9, 6.9, 6.8, 7.0,
  7,
];

const wave1 = [staples1, pulses1, veg1, fruit1, meat1, dairy1, sugar1, oil1];
const wave2 = [staples2, pulses2, veg2, fruit2, meat2, dairy2, sugar2, oil2];

const SERIF = "Liberation Serif";
const SANS = "Open Sans";

function buildSeries(data: number[][], idx: number) {
  return data.map((d, i) => ({
    name: seriesNames[i],
    type: "line",
    stack: "wave" + idx,
    xAxisIndex: idx,
    yAxisIndex: idx,
    data: d,
    symbol: "none",
    showSymbol: false,
    lineStyle: { width: 0.7, color: "rgba(255,255,255,0.28)" },
    areaStyle: { color: seriesColors[i], opacity: 1 },
    itemStyle: { color: seriesColors[i] },
    emphasis: { disabled: true },
    z: 2,
  }));
}

function legendCfg(top: number) {
  return {
    orient: "vertical",
    left: 732,
    top,
    padding: 0,
    itemWidth: 14,
    itemHeight: 14,
    itemGap: 18.4,
    icon: "rect",
    selectedMode: false,
    data: legendOrder.map((n) => ({
      name: n,
      itemStyle: { color: seriesColors[seriesNames.indexOf(n)], borderWidth: 0 },
    })),
    textStyle: { fontFamily: SERIF, fontSize: 27, color: "#000" },
  };
}

function yAxisCfg(gridIndex: number) {
  return {
    gridIndex,
    type: "value",
    min: 0,
    max: 60,
    interval: 10,
    axisLine: { show: false },
    axisTick: { show: false },
    splitLine: { lineStyle: { color: "#D9D9D9", width: 2 } },
    axisLabel: { fontFamily: SERIF, fontSize: 27, color: "#000", margin: 23 },
  };
}

function xAxisCfg(gridIndex: number, cats: number[], withName: boolean) {
  return {
    gridIndex,
    type: "category",
    data: cats.map(String),
    boundaryGap: false,
    name: withName ? "Food Consumption Score" : "",
    nameLocation: "middle",
    nameGap: 88,
    nameTextStyle: { fontFamily: SERIF, fontWeight: "bold", fontSize: 28, color: "#000" },
    axisLine: { lineStyle: { color: "#D9D9D9", width: 2 } },
    axisTick: { show: false },
    axisLabel: {
      interval: 9,
      rotate: 90,
      fontFamily: SERIF,
      fontSize: 26,
      color: "#000",
      margin: 10,
    },
  };
}

export default function App() {
  const ref = useRef<HTMLDivElement>(null);
  useEffect(() => {
    if (!ref.current) return;
    const chart = echarts.init(ref.current, null, { renderer: "svg" });
    const option: any = {
      animation: false,
      backgroundColor: "#fff",
      title: [
        {
          text: "Wave 1",
          left: 76,
          top: 21,
          padding: [2, 0, 2, 2],
          backgroundColor: "#fff",
          textStyle: { fontFamily: SANS, fontWeight: "bold", fontSize: 27, color: "#000" },
        },
        {
          text: "Wave 2",
          left: 78,
          top: 677,
          padding: [2, 0, 2, 2],
          backgroundColor: "#fff",
          textStyle: { fontFamily: SANS, fontWeight: "bold", fontSize: 27, color: "#000" },
        },
      ],
      legend: [legendCfg(156.5), legendCfg(824.5)],
      grid: [
        { left: 85, top: 33, width: 603, height: 471, outerBoundsMode: "none", containLabel: false },
        { left: 85, top: 690, width: 603, height: 491, outerBoundsMode: "none", containLabel: false },
      ],
      xAxis: [xAxisCfg(0, cats1, true), xAxisCfg(1, cats2, false)],
      yAxis: [yAxisCfg(0), yAxisCfg(1)],
      series: [...buildSeries(wave1, 0), ...buildSeries(wave2, 1)],
      graphic: [
        {
          type: "rect",
          shape: { x: 5, y: 4.5, width: 900, height: 647 },
          style: { fill: "none", stroke: "#4F81BD", lineWidth: 3 },
          silent: true,
        },
        {
          type: "rect",
          shape: { x: 5, y: 661.5, width: 900, height: 700 },
          style: { fill: "none", stroke: "#4F81BD", lineWidth: 3 },
          silent: true,
        },
        {
          type: "text",
          x: 405,
          y: 1302,
          style: {
            text: "Food Consumption Score",
            fontFamily: SANS,
            fontWeight: "bold",
            fontSize: 23,
            fill: "#000",
            align: "center",
            verticalAlign: "middle",
          },
          silent: true,
        },
      ],
    };
    chart.setOption(option);
    return () => chart.dispose();
  }, []);
  return (
    <div
      ref={ref}
      style={{ position: "absolute", left: 0, top: 0, width: 888, height: 1327, background: "#fff" }}
    />
  );
}
